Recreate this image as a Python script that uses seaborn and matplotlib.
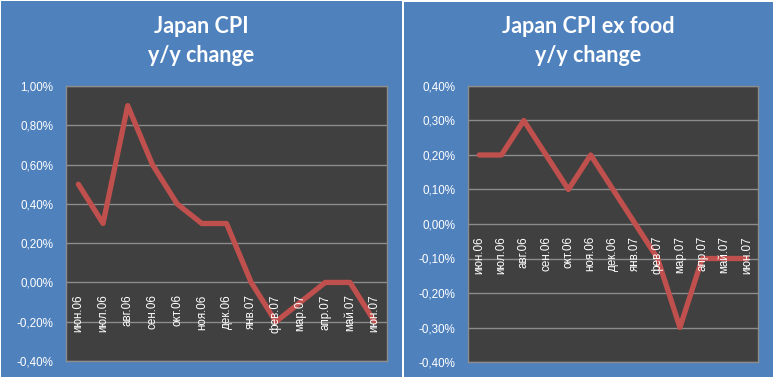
import matplotlib
matplotlib.use("Agg")
import matplotlib.pyplot as plt
import matplotlib.patches as mpatches
import matplotlib.transforms as mtransforms
from matplotlib.ticker import FuncFormatter, MultipleLocator
import seaborn as sns
import pandas as pd

sns.set_theme(style="dark")
plt.rcParams['font.family'] = ['Liberation Sans', 'DejaVu Sans']

months = ["июн.06", "июл.06", "авг.06", "сен.06", "окт.06", "ноя.06", "дек.06",
          "янв.07", "фев.07", "мар.07", "апр.07", "май.07", "июн.07"]
cpi = [0.5, 0.3, 0.9, 0.6, 0.4, 0.3, 0.3, 0.0, -0.2, -0.1, 0.0, 0.0, -0.2]
cpi_ex_food = [0.2, 0.2, 0.3, 0.2, 0.1, 0.2, 0.1, 0.0, -0.1, -0.3, -0.1, -0.1, -0.1]
titles = ["Japan CPI\ny/y change", "Japan CPI ex food\ny/y change"]

BLUE = "#4F81BD"
PLOT_BG = "#404040"
GRID = "#8C8C8C"
RED = "#C0504D"

W, H = 775, 379
fig = plt.figure(figsize=(W / 100, H / 100), dpi=100)
fig.patch.set_facecolor("white")

def px_rect(x0, y0, x1, y1):
    return [x0 / W, 1 - y1 / H, (x1 - x0) / W, (y1 - y0) / H]

panels = [(1, 1, 402, 377), (404, 2, 773, 377)]
for (x0, y0, x1, y1) in panels:
    r = px_rect(x0, y0, x1, y1)
    fig.patches.append(mpatches.Rectangle((r[0], r[1]), r[2], r[3],
                                          transform=fig.transFigure,
                                          facecolor=BLUE, edgecolor="none", zorder=-10))

axes_px = [(66, 86, 387, 361), (468, 86, 758, 362)]
limits = [(-0.4, 1.0, 0.2), (-0.4, 0.4, 0.1)]
series = [cpi, cpi_ex_food]

def pct(v, pos):
    v = round(v, 2)
    if v == 0:
        v = 0.0
    return f"{v:.2f}%".replace(".", ",")

for i in range(2):
    ax = fig.add_axes(px_rect(*axes_px[i]))
    ax.set_zorder(2)
    df = pd.DataFrame({"month": months, "value": series[i]})
    sns.lineplot(data=df, x="month", y="value", ax=ax, color=RED,
                 linewidth=3.8, sort=False, zorder=3)
    lo, hi, step = limits[i]
    ax.set_ylim(lo, hi)
    ax.set_xlim(-0.5, len(months) - 0.5)
    ax.yaxis.set_major_locator(MultipleLocator(step))
    ax.yaxis.set_major_formatter(FuncFormatter(pct))
    ax.set_facecolor(PLOT_BG)
    ax.grid(False)
    ax.yaxis.grid(True, color=GRID, linewidth=1.0)
    ax.set_axisbelow(True)
    for s in ax.spines.values():
        s.set_color(GRID)
        s.set_linewidth(1.0)
    ax.set_xlabel("")
    ax.set_ylabel("")
    ax.set_xticks([])
    ax.tick_params(axis="y", colors="white", labelsize=8.4, length=0, pad=9)
    for lab in ax.get_yticklabels():
        lab.set_color("white")
    offset = mtransforms.ScaledTranslation(0, -12 / 100, fig.dpi_scale_trans)
    for j, m in enumerate(months):
        ax.text(j, 0, m, rotation=90, ha="center", va="top", color="white",
                fontsize=8.4, transform=ax.transData + offset, zorder=4)
    cx = (panels[i][0] + panels[i][2]) / 2 / W
    fig.text(cx, 1 - 41 / H, titles[i], ha="center", va="center", color="white",
             fontsize=15.5, fontweight="bold", family=["Lato", "DejaVu Sans"],
             linespacing=1.5, zorder=5)

fig.savefig("out.png", dpi=100, facecolor=fig.get_facecolor())
